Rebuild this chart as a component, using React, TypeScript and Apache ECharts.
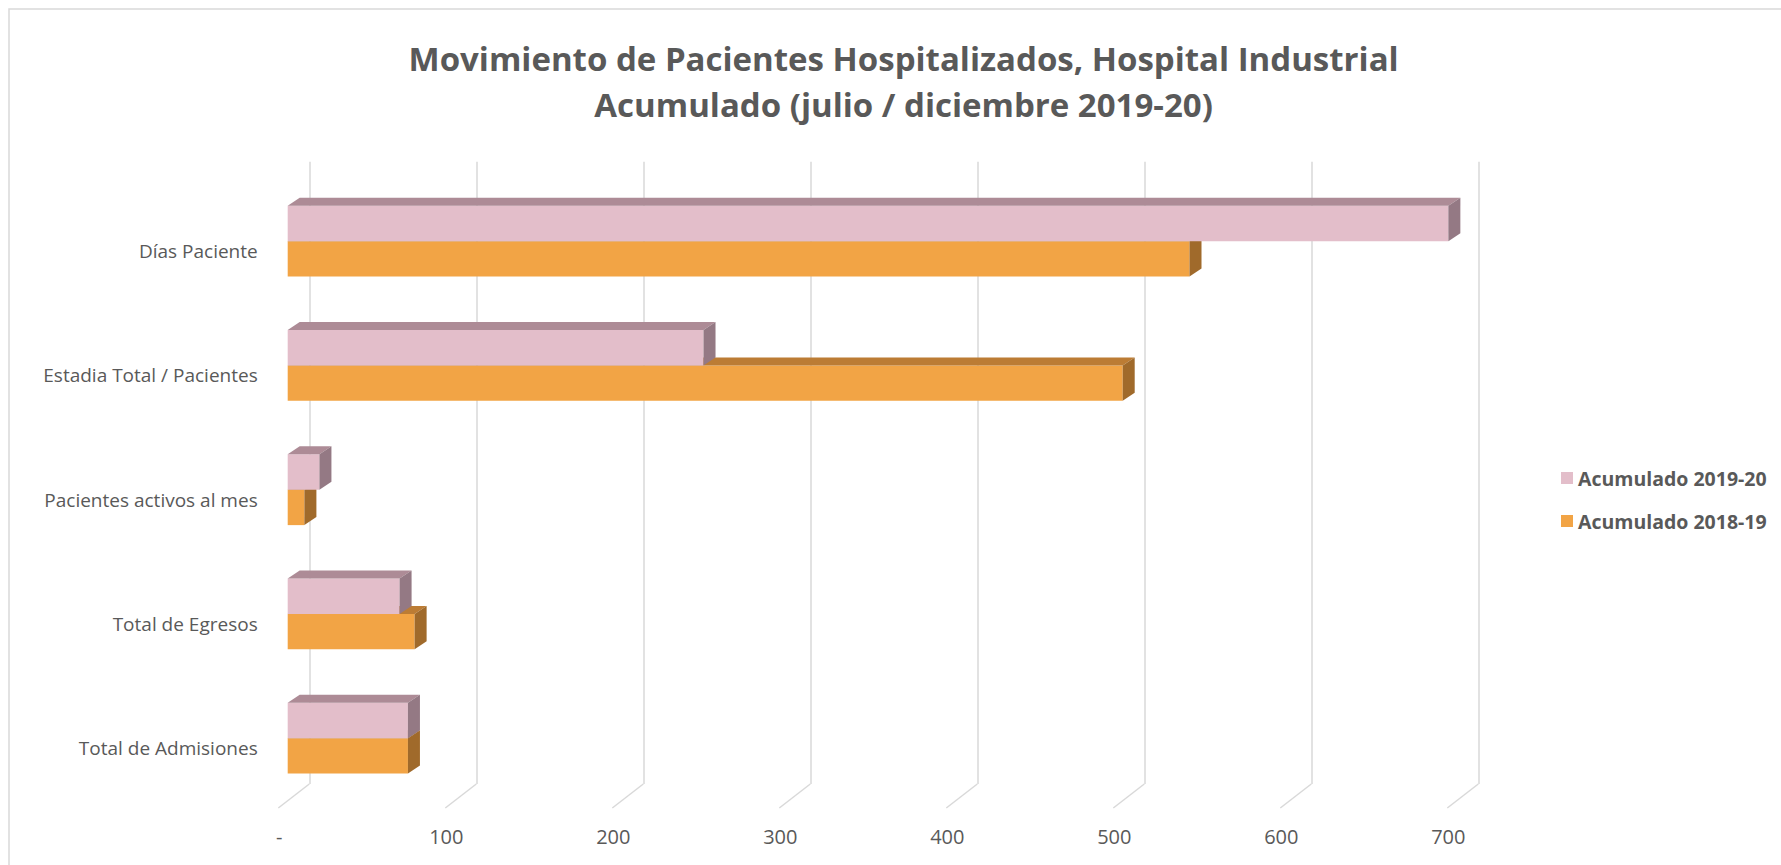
import React, { useEffect, useRef } from "react";
import * as echarts from "echarts";

const CATEGORIES = [
  "Días Paciente",
  "Estadia Total / Pacientes",
  "Pacientes activos al mes",
  "Total de Egresos",
  "Total de Admisiones",
];
const ACUM_2019_20 = [695, 249, 19, 67, 72];
const ACUM_2018_19 = [540, 500, 10, 76, 72];
const TICKS = [0, 100, 200, 300, 400, 500, 600, 700];
const SERIES_NAMES = ["Acumulado 2019-20", "Acumulado 2018-19"];

const TITLE = "Movimiento de Pacientes Hospitalizados, Hospital Industrial\nAcumulado (julio / diciembre 2019-20)";

const FONT = "'Open Sans', 'DejaVu Sans', sans-serif";
const TEXT_COLOR = "#595959";
const GRID_COLOR = "#d9d9d9";

const PINK = { front: "#E3BECA", top: "#AD8B96", side: "#947984" };
const ORANGE = { front: "#F2A445", top: "#BC7C34", side: "#A06A2B" };

const DEPTH_X = 12;
const DEPTH_Y = -8;
const BAR_FRAC = 0.2857;

function makeBarRenderer(upper: boolean, colors: { front: string; top: string; side: string }) {
  return (params: any, api: any) => {
    const v = api.value(0);
    const c = api.value(1);
    const p0 = api.coord([0, c]);
    const p1 = api.coord([v, c]);
    const band = api.size([0, 1])[1];
    const h = band * BAR_FRAC;
    const x = p0[0];
    const w = p1[0] - p0[0];
    const y = upper ? p0[1] - h : p0[1];
    return {
      type: "group",
      children: [
        {
          type: "rect",
          shape: { x, y, width: w, height: h },
          style: { fill: colors.front },
        },
        {
          type: "polygon",
          shape: {
            points: [
              [x, y],
              [x + DEPTH_X, y + DEPTH_Y],
              [x + w + DEPTH_X, y + DEPTH_Y],
              [x + w, y],
            ],
          },
          style: { fill: colors.top },
        },
        {
          type: "polygon",
          shape: {
            points: [
              [x + w, y],
              [x + w + DEPTH_X, y + DEPTH_Y],
              [x + w + DEPTH_X, y + h + DEPTH_Y],
              [x + w, y + h],
            ],
          },
          style: { fill: colors.side },
        },
      ],
    };
  };
}

function floorRenderer(params: any, api: any) {
  const p = api.coord([api.value(0), 0]);
  return {
    type: "line",
    shape: { x1: p[0], y1: p[1], x2: p[0] - 31, y2: p[1] + 24 },
    style: { stroke: GRID_COLOR, lineWidth: 1.5 },
  };
}

export default function App() {
  const ref = useRef<HTMLDivElement>(null);
  useEffect(() => {
    if (!ref.current) return;
    const chart = echarts.init(ref.current, null, { renderer: "svg" });
    const option: any = {
      animation: false,
      backgroundColor: "#ffffff",
      title: {
        text: TITLE,
        left: 903.6,
        top: 35,
        padding: 0,
        textAlign: "center",
        textStyle: {
          fontFamily: FONT,
          fontSize: 33,
          fontWeight: "bold",
          color: TEXT_COLOR,
          lineHeight: 46,
        },
      },
      legend: {
        data: SERIES_NAMES,
        orient: "vertical",
        left: 1561,
        top: 468,
        padding: 0,
        itemWidth: 12,
        itemHeight: 12,
        itemGap: 23,
        icon: "rect",
        selectedMode: false,
        textStyle: {
          fontFamily: FONT,
          fontSize: 19.5,
          fontWeight: "bold",
          color: TEXT_COLOR,
          lineHeight: 20,
        },
      },
      graphic: [
        {
          type: "rect",
          shape: { x: 9, y: 9, width: 1800, height: 900 },
          style: { fill: "none", stroke: GRID_COLOR, lineWidth: 1.5 },
          silent: true,
          z: -10,
        },
      ],
      grid: [
        { left: 287.7, top: 179, width: 1169, height: 621.25 },
        { left: 309.3, top: 161.7, width: 1169, height: 622.3 },
      ],
      xAxis: [
        {
          gridIndex: 0,
          type: "value",
          min: 0,
          max: 700,
          interval: 100,
          show: false,
        },
        {
          gridIndex: 1,
          type: "value",
          min: 0,
          max: 700,
          interval: 100,
          axisLine: { show: false },
          axisTick: { show: false },
          splitLine: { show: true, lineStyle: { color: GRID_COLOR, width: 1.5 } },
          axisLabel: {
            margin: 42,
            padding: [0, 60, 0, 0],
            fontFamily: FONT,
            fontSize: 20,
            color: TEXT_COLOR,
            formatter: (v: number) => (v === 0 ? "-" : String(v)),
          },
        },
      ],
      yAxis: [
        {
          gridIndex: 0,
          type: "category",
          data: CATEGORIES,
          inverse: true,
          axisLine: { show: false },
          axisTick: { show: false },
          splitLine: { show: false },
          axisLabel: {
            margin: 30,
            verticalAlign: "top",
            lineHeight: 20,
            fontFamily: FONT,
            fontSize: 19,
            color: TEXT_COLOR,
          },
        },
        {
          gridIndex: 1,
          type: "value",
          min: 0,
          max: 1,
          show: false,
        },
      ],
      series: [
        {
          name: "floor",
          type: "custom",
          xAxisIndex: 1,
          yAxisIndex: 1,
          silent: true,
          renderItem: floorRenderer,
          encode: { x: 0 },
          data: TICKS.map((t) => [t]),
          z: 1,
        },
        {
          name: SERIES_NAMES[1],
          type: "custom",
          xAxisIndex: 0,
          yAxisIndex: 0,
          renderItem: makeBarRenderer(false, ORANGE),
          itemStyle: { color: ORANGE.front },
          encode: { x: 0, y: 1 },
          data: ACUM_2018_19.map((v, i) => [v, CATEGORIES[i]]),
          z: 3,
        },
        {
          name: SERIES_NAMES[0],
          type: "custom",
          xAxisIndex: 0,
          yAxisIndex: 0,
          renderItem: makeBarRenderer(true, PINK),
          itemStyle: { color: PINK.front },
          encode: { x: 0, y: 1 },
          data: ACUM_2019_20.map((v, i) => [v, CATEGORIES[i]]),
          z: 4,
        },
      ],
    };
    chart.setOption(option);
    return () => chart.dispose();
  }, []);
  return (
    <div
      ref={ref}
      style={{ position: "fixed", left: 0, top: 0, width: 1781, height: 865, background: "#fff" }}
    />
  );
}
